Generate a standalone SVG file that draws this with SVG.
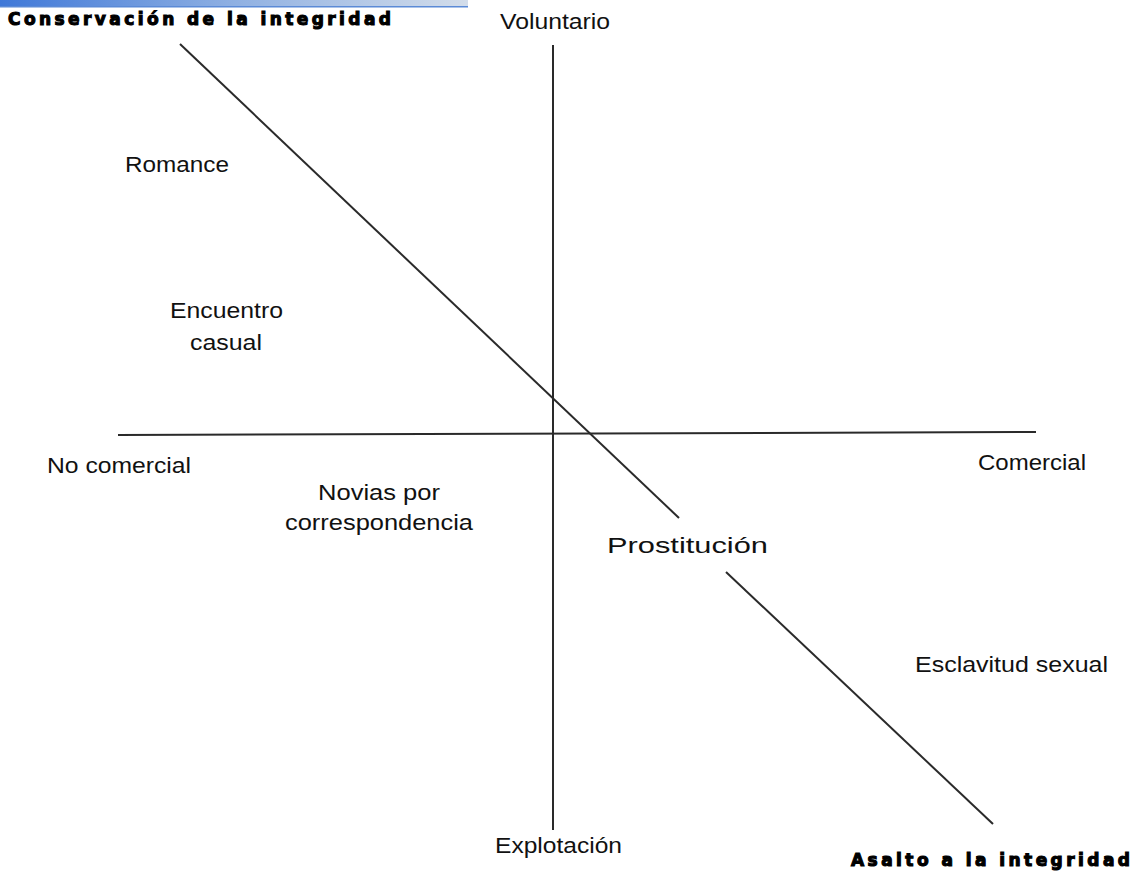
<svg xmlns="http://www.w3.org/2000/svg" width="1135" height="873" viewBox="0 0 1135 873">
<defs>
<linearGradient id="bar" x1="0" y1="0" x2="1" y2="0">
<stop offset="0" stop-color="#3f78d8"/>
<stop offset="0.5" stop-color="#8fb0e2"/>
<stop offset="1" stop-color="#d3ddea"/>
</linearGradient>
</defs>
<style>
.lbl{font-family:"Liberation Sans",Arial,sans-serif;font-size:22px;fill:#111}
.ttl{font-family:"DejaVu Sans","Liberation Sans",sans-serif;font-size:17px;font-weight:bold;fill:#000;stroke:#000;stroke-width:1.1}
.ax{stroke:#2a2a2a;stroke-width:2;fill:none}
</style>
<rect width="1135" height="873" fill="#fff"/>
<rect x="0" y="0" width="468" height="7" fill="url(#bar)"/>
<rect x="0" y="6" width="468" height="1.5" fill="#5b8ad6"/>
<g id="connectors">
<line class="ax" x1="553" y1="45" x2="553" y2="830"/>
<line class="ax" x1="118" y1="435" x2="1036" y2="432"/>
<line class="ax" x1="180" y1="44" x2="679" y2="518"/>
<line class="ax" x1="726" y1="572" x2="993" y2="824"/>
</g>
<g id="n-conservacion"><text class="ttl" x="8" y="25" textLength="383" lengthAdjust="spacing">Conservación de la integridad</text></g>
<g id="n-asalto"><text class="ttl" x="851" y="866" textLength="279" lengthAdjust="spacing">Asalto a la integridad</text></g>
<g id="n-voluntario"><text class="lbl" x="500" y="29" textLength="110" lengthAdjust="spacingAndGlyphs">Voluntario</text></g>
<g id="n-romance"><text class="lbl" x="125" y="172" textLength="104" lengthAdjust="spacingAndGlyphs">Romance</text></g>
<g id="n-encuentro"><text class="lbl" x="170" y="318" textLength="113" lengthAdjust="spacingAndGlyphs">Encuentro</text><text class="lbl" x="190" y="350" textLength="72" lengthAdjust="spacingAndGlyphs">casual</text></g>
<g id="n-nocomercial"><text class="lbl" x="47" y="473" textLength="144" lengthAdjust="spacingAndGlyphs">No comercial</text></g>
<g id="n-comercial"><text class="lbl" x="978" y="470" textLength="108" lengthAdjust="spacingAndGlyphs">Comercial</text></g>
<g id="n-novias"><text class="lbl" x="318" y="500" textLength="122" lengthAdjust="spacingAndGlyphs">Novias por</text><text class="lbl" x="285" y="530" textLength="188" lengthAdjust="spacingAndGlyphs">correspondencia</text></g>
<g id="n-prostitucion"><text class="lbl" x="607" y="553" textLength="161" lengthAdjust="spacingAndGlyphs">Prostitución</text></g>
<g id="n-esclavitud"><text class="lbl" x="915" y="672" textLength="193" lengthAdjust="spacingAndGlyphs">Esclavitud sexual</text></g>
<g id="n-explotacion"><text class="lbl" x="495" y="853" textLength="127" lengthAdjust="spacingAndGlyphs">Explotación</text></g>
</svg>
